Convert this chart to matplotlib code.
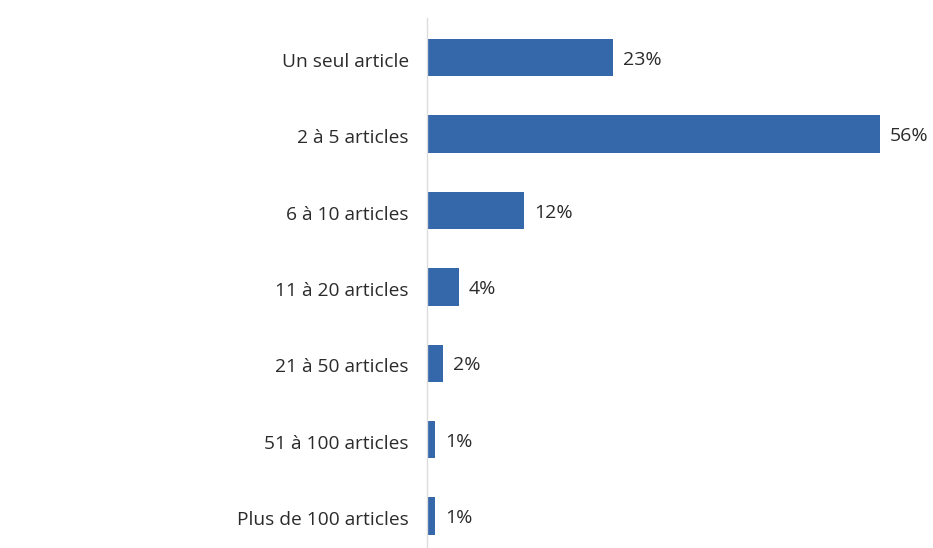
import matplotlib
matplotlib.use("Agg")
import matplotlib.pyplot as plt
import matplotlib.transforms as mtransforms

categories = ["Un seul article", "2 à 5 articles", "6 à 10 articles", "11 à 20 articles",
              "21 à 50 articles", "51 à 100 articles", "Plus de 100 articles"]
shares = [23, 56, 12, 4, 2, 1, 1]
value_labels = ["23%", "56%", "12%", "4%", "2%", "1%", "1%"]

plt.rcParams["font.family"] = ["Open Sans", "DejaVu Sans"]

fig = plt.figure(figsize=(9.33, 5.48), dpi=100)
ax = fig.add_axes([0.4577, 0.0, 0.52, 0.967])

y = range(len(categories))
ax.barh(y, shares, height=0.49, color="#3567ab")
for i, (v, lab) in enumerate(zip(shares, value_labels)):
    ax.annotate(lab, (v, i), xytext=(7, -1.5), textcoords="offset points",
                va="center", ha="left", fontsize=14, color="#2b2b2b")

ax.set_yticks(list(y))
ax.set_yticklabels(categories, fontsize=13.8, color="#2b2b2b")
ax.tick_params(axis="y", length=0, pad=13)
# nudge category labels down a touch so they sit on the bar centre line
shift = mtransforms.ScaledTranslation(0, -1.5 / 72, fig.dpi_scale_trans)
for t in ax.get_yticklabels():
    t.set_transform(t.get_transform() + shift)
ax.set_xticks([])
ax.set_xlim(0, 60)
ax.set_ylim(6.42, -0.52)
for side in ["top", "right", "bottom"]:
    ax.spines[side].set_visible(False)
ax.spines["left"].set_color("#dcdcdc")
ax.spines["left"].set_linewidth(1)

fig.savefig("out.png", dpi=100)
